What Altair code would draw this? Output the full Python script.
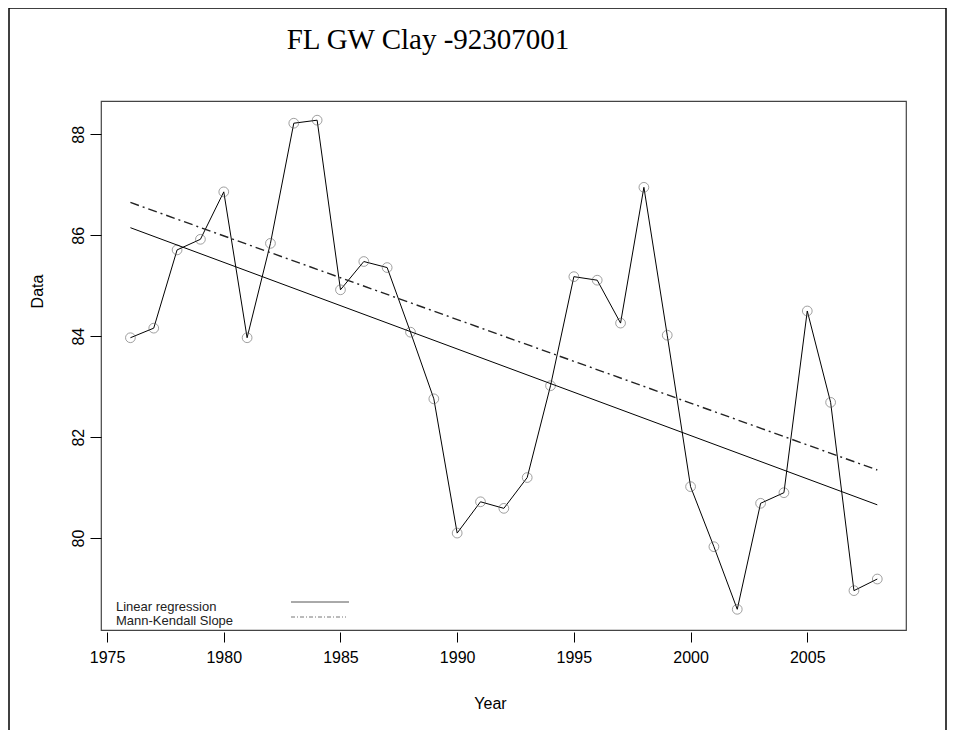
import altair as alt
import pandas as pd

title_text = "FL GW Clay -92307001"
years = list(range(1976, 2009))
values = [83.97, 84.16, 85.71, 85.92, 86.86, 83.97, 85.84, 88.22, 88.28, 84.92,
          85.48, 85.36, 84.08, 82.76, 80.10, 80.72, 80.59, 81.20, 83.02, 85.18,
          85.11, 84.26, 86.95, 84.02, 81.02, 79.83, 78.59, 80.69, 80.90, 84.50,
          82.69, 78.96, 79.19]
trend_years = [1976, 2008]
linreg_vals = [86.15, 80.66]
mk_vals = [86.65, 81.35]
legend_labels = ["Linear regression", "Mann-Kendall Slope"]
x_ticks = [1975, 1980, 1985, 1990, 1995, 2000, 2005]
y_ticks = [80, 82, 84, 86, 88]

W, H = 805, 529
df = pd.DataFrame({"Year": years, "Data": values})
trend = pd.DataFrame({"Year": trend_years, "lin": linreg_vals, "mk": mk_vals})
one = pd.DataFrame({"a": [0]})

xs = alt.Scale(domain=[1974.74, 2009.23], nice=False, zero=False)
ys = alt.Scale(domain=[78.18, 88.66], nice=False, zero=False)

base = alt.Chart(df)
xenc = alt.X("Year:Q", scale=xs,
             axis=alt.Axis(values=x_ticks, format="d", title="Year", domain=False, grid=False,
                           tickSize=10, offset=2, labelPadding=7, labelFontSize=16,
                           labelFont="Liberation Sans", labelColor="black", tickColor="black",
                           titleFont="Liberation Sans", titleFontSize=16, titleFontWeight="normal",
                           titleX=389, titleY=71, titleBaseline="middle", titleColor="black"))
yenc = alt.Y("Data:Q", scale=ys,
             axis=alt.Axis(values=y_ticks, format="d", title="Data", domain=False, grid=False,
                           tickSize=11, labelAngle=-90, labelAlign="center", labelBaseline="bottom",
                           labelPadding=4, labelFontSize=16, labelFont="Liberation Sans",
                           labelColor="black", tickColor="black",
                           titleFont="Liberation Sans", titleFontSize=16, titleFontWeight="normal",
                           titleX=-64, titleY=190, titleAngle=-90, titleAlign="center",
                           titleBaseline="middle", titleColor="black"))

data_line = base.mark_line(color="black", strokeWidth=1).encode(x=xenc, y=yenc)
points = base.mark_point(shape="circle", filled=False, size=95, color="#555555",
                         strokeWidth=0.8).encode(x="Year:Q", y="Data:Q")
lin_line = alt.Chart(trend).mark_line(color="black", strokeWidth=1).encode(
    x="Year:Q", y=alt.Y("lin:Q"))
mk_line = alt.Chart(trend).mark_line(color="#222222", strokeWidth=1.4,
                                     strokeDash=[9, 4, 2, 4]).encode(
    x="Year:Q", y=alt.Y("mk:Q"))

title_mark = alt.Chart(one).mark_text(font="Liberation Serif", fontSize=29, color="black",
                                      align="center", baseline="middle").encode(
    x=alt.value(327), y=alt.value(-61), text=alt.value(title_text))

leg1 = alt.Chart(one).mark_text(font="Liberation Sans", fontSize=13, color="#222222",
                                align="left", baseline="middle").encode(
    x=alt.value(15), y=alt.value(506), text=alt.value(legend_labels[0]))
leg2 = alt.Chart(one).mark_text(font="Liberation Sans", fontSize=13, color="#222222",
                                align="left", baseline="middle").encode(
    x=alt.value(15), y=alt.value(520), text=alt.value(legend_labels[1]))
leg_r1 = alt.Chart(one).mark_rule(color="#555555", strokeWidth=1).encode(
    x=alt.value(190), x2=alt.value(248), y=alt.value(501))
leg_r2 = alt.Chart(one).mark_rule(color="#777777", strokeWidth=1,
                                  strokeDash=[4, 2, 1, 2]).encode(
    x=alt.value(190), x2=alt.value(245), y=alt.value(516))

border_l = alt.Chart(one).mark_rule(color="black", strokeWidth=1.5).encode(
    x=alt.value(-92), y=alt.value(-93), y2=alt.value(630))
border_t = alt.Chart(one).mark_rule(color="black", strokeWidth=1.5).encode(
    x=alt.value(-92), x2=alt.value(845), y=alt.value(-93))
border_r = alt.Chart(one).mark_rule(color="black", strokeWidth=1.5).encode(
    x=alt.value(845), y=alt.value(-93), y2=alt.value(630))

chart = alt.layer(
    data_line, points, lin_line, mk_line, title_mark, leg1, leg2, leg_r1, leg_r2,
    border_l, border_t, border_r
).properties(
    width=W, height=H,
    autosize="none",
    padding={"left": 93, "top": 93, "right": 42, "bottom": 100},
).configure(
    background="white",
    view=alt.ViewConfig(stroke="#444444", strokeWidth=1.2),
)

chart.save("out.html", embed_options={"renderer": "svg", "actions": False})
